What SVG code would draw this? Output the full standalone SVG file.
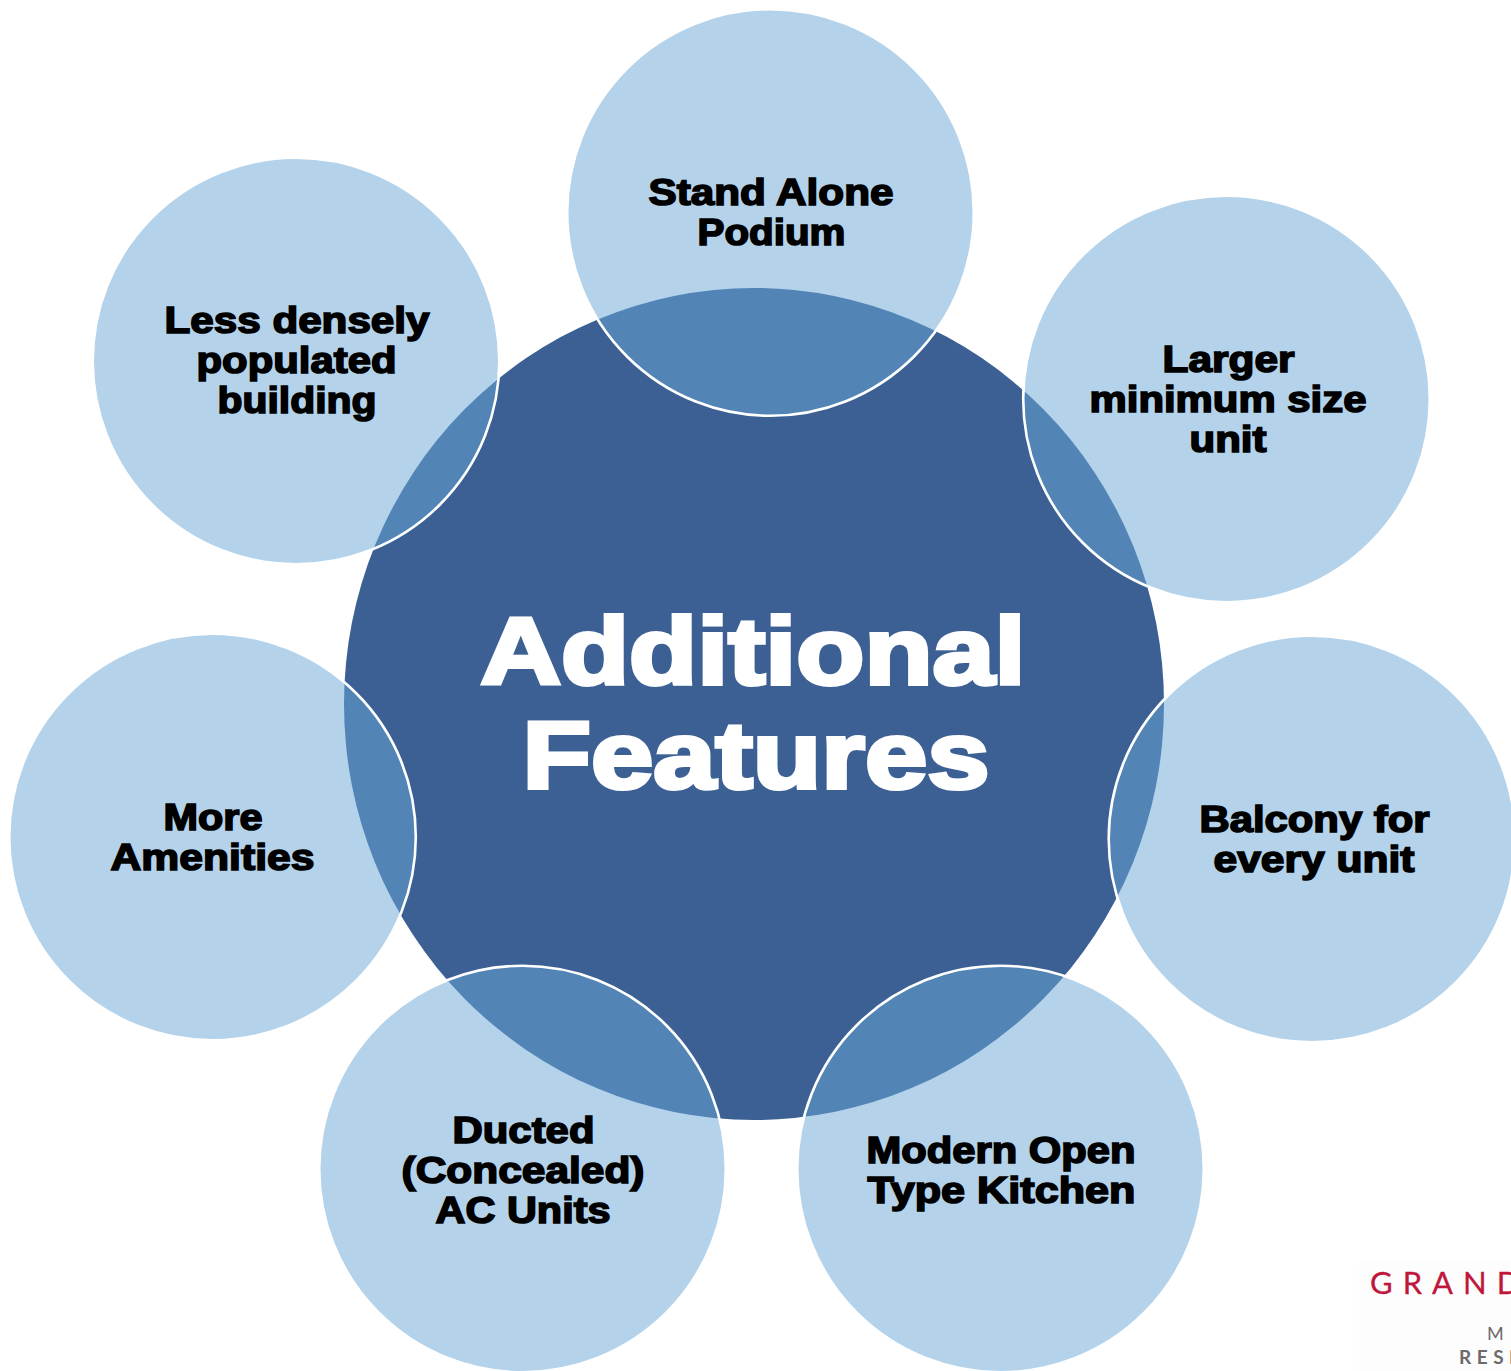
<svg xmlns="http://www.w3.org/2000/svg" width="1511" height="1371" viewBox="0 0 1511 1371">
<style>
.sat{fill:rgb(105,167,215);fill-opacity:.5;stroke:#fff;stroke-width:2.6}
.lbl{font-family:"Liberation Sans",Arial,sans-serif;font-weight:700;font-size:36.5px;fill:#000;stroke:#000;stroke-width:1.6;text-anchor:middle}
.ttl{font-family:"Liberation Sans",Arial,sans-serif;font-weight:700;font-size:95px;fill:#fff;stroke:#fff;stroke-width:4;text-anchor:middle}
</style>
<rect width="1511" height="1371" fill="#fff"/>
<g id="logo">
<rect x="1359" y="1259" width="152" height="112" fill="#fdfdfd"/>
<text x="1370" y="1294" font-family="Lato,sans-serif" font-size="31" letter-spacing="10" fill="#c0163c" stroke="#c0163c" stroke-width=".3">GRAND</text>
<text x="1487" y="1340" font-family="Lato,sans-serif" font-size="18" letter-spacing="8" fill="#6f6a6a">MA</text>
<text x="1459" y="1364" font-family="Lato,sans-serif" font-weight="700" font-size="19" letter-spacing="5.5" fill="#6f6a6a">RESI</text>
</g>
<g id="center">
<ellipse cx="754" cy="704" rx="410" ry="416" fill="#3c6094"/>
<text class="ttl" x="753" y="684" textLength="545" lengthAdjust="spacingAndGlyphs">Additional</text>
<text class="ttl" x="756" y="788" textLength="467" lengthAdjust="spacingAndGlyphs">Features</text>
</g>
<g id="n-podium"><circle class="sat" cx="770.5" cy="212.5" r="203.3"/><text class="lbl" x="771" y="205" textLength="245" lengthAdjust="spacingAndGlyphs">Stand Alone</text><text class="lbl" x="771.5" y="245" textLength="148" lengthAdjust="spacingAndGlyphs">Podium</text></g>
<g id="n-larger"><circle class="sat" cx="1226.5" cy="399" r="203.3"/><text class="lbl" x="1228.5" y="372" textLength="132" lengthAdjust="spacingAndGlyphs">Larger</text><text class="lbl" x="1228" y="412" textLength="277" lengthAdjust="spacingAndGlyphs">minimum size</text><text class="lbl" x="1228" y="452" textLength="77" lengthAdjust="spacingAndGlyphs">unit</text></g>
<g id="n-balcony"><circle class="sat" cx="1312" cy="839" r="203.3"/><text class="lbl" x="1314.5" y="832" textLength="230" lengthAdjust="spacingAndGlyphs">Balcony for</text><text class="lbl" x="1314" y="872" textLength="201" lengthAdjust="spacingAndGlyphs">every unit</text></g>
<g id="n-kitchen"><circle class="sat" cx="1000.5" cy="1169" r="203.3"/><text class="lbl" x="1001" y="1163" textLength="269" lengthAdjust="spacingAndGlyphs">Modern Open</text><text class="lbl" x="1001.5" y="1203" textLength="268" lengthAdjust="spacingAndGlyphs">Type Kitchen</text></g>
<g id="n-ac"><circle class="sat" cx="522.5" cy="1169" r="203.3"/><text class="lbl" x="523.5" y="1143" textLength="142" lengthAdjust="spacingAndGlyphs">Ducted</text><text class="lbl" x="523" y="1183" textLength="243" lengthAdjust="spacingAndGlyphs">(Concealed)</text><text class="lbl" x="523" y="1223" textLength="175" lengthAdjust="spacingAndGlyphs">AC Units</text></g>
<g id="n-amenities"><circle class="sat" cx="212.5" cy="837" r="203.3"/><text class="lbl" x="213" y="830" textLength="99" lengthAdjust="spacingAndGlyphs">More</text><text class="lbl" x="212.5" y="870" textLength="204" lengthAdjust="spacingAndGlyphs">Amenities</text></g>
<g id="n-density"><circle class="sat" cx="296" cy="361" r="203.3"/><text class="lbl" x="297" y="333" textLength="265" lengthAdjust="spacingAndGlyphs">Less densely</text><text class="lbl" x="296.5" y="373" textLength="200" lengthAdjust="spacingAndGlyphs">populated</text><text class="lbl" x="297" y="413" textLength="159" lengthAdjust="spacingAndGlyphs">building</text></g>
<g id="connectors"/>
</svg>
